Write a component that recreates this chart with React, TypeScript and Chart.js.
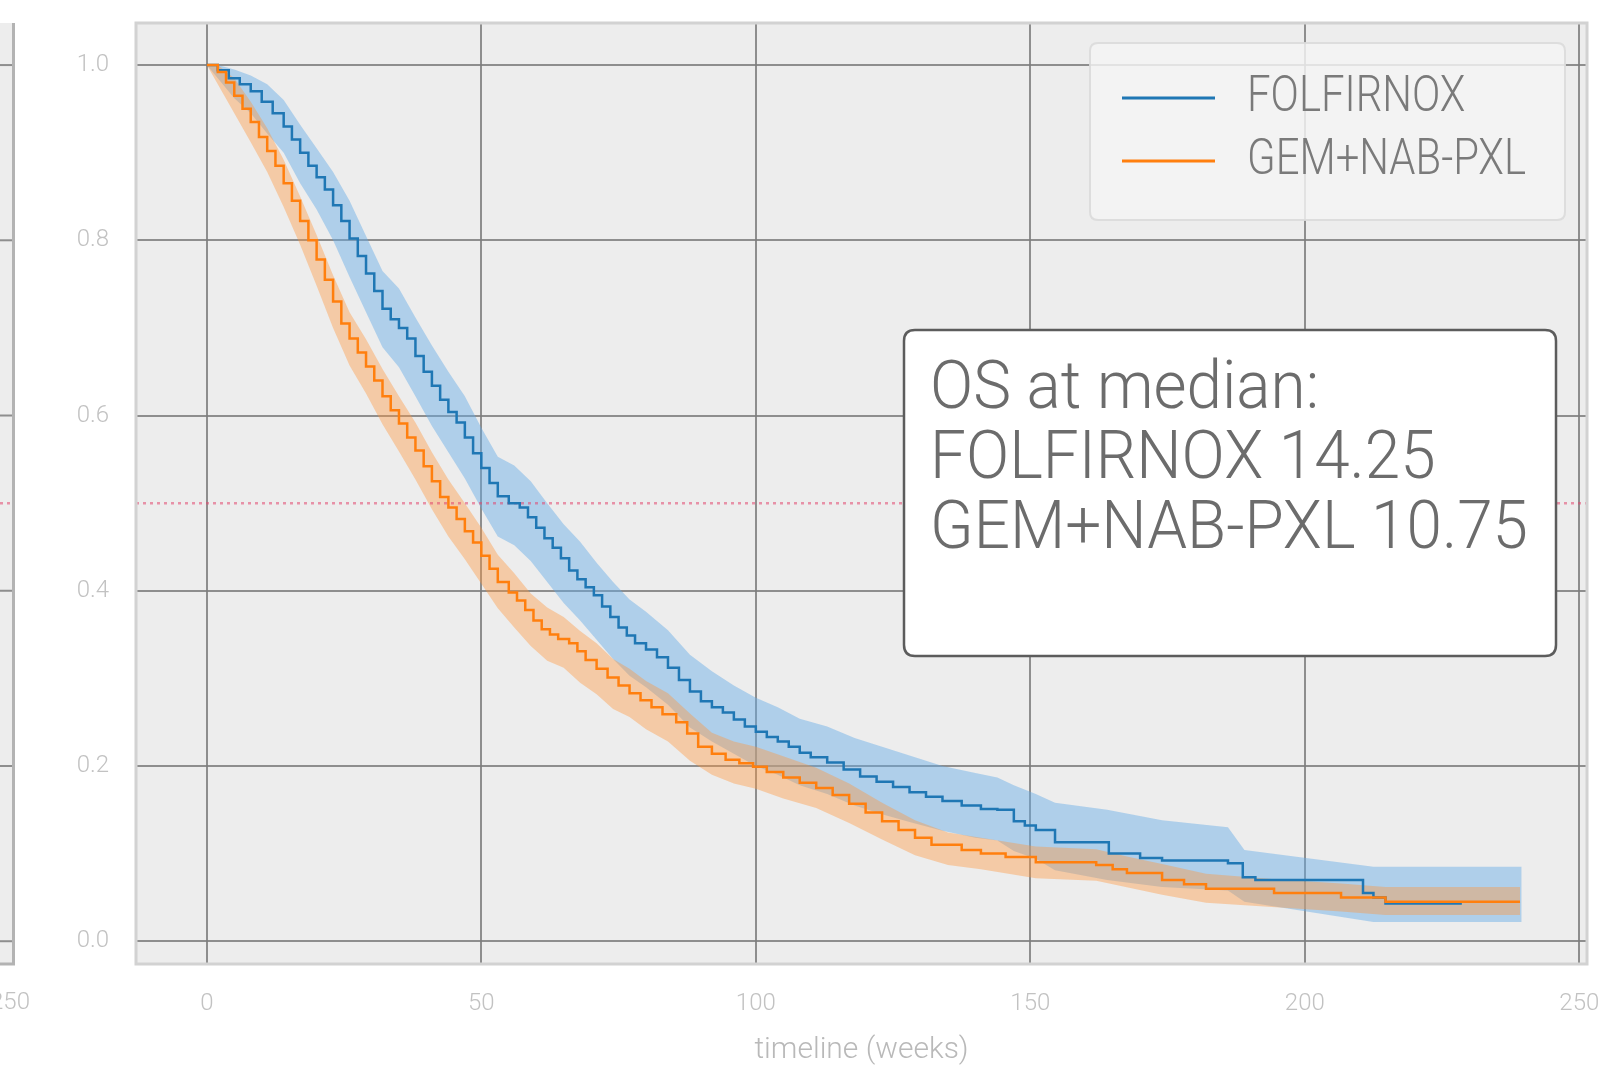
import React, { useEffect, useRef } from 'react';
import { Chart, registerables } from 'chart.js';

Chart.register(...registerables);

// ---------- data ----------
const seriesNames = ['FOLFIRNOX', 'GEM+NAB-PXL'];
const medianOS = [14.25, 10.75];
const medianTitle = 'OS at median:';
const xAxisTitle = 'timeline (weeks)';
const xTicks = [0, 50, 100, 150, 200, 250];
const yTicks = [0, 0.2, 0.4, 0.6, 0.8, 1.0];
const medianLevel = 0.5;

const folfirnoxWeeks = [0, 2, 4, 6, 8, 10, 12, 14, 15.5, 17, 18.5, 20, 21.5, 23, 24.5, 26, 27.5, 29, 30.5, 32, 33.5, 35, 36.5, 38, 39.5, 41, 42.5, 44, 45.5, 47, 48.5, 50, 51.5, 53, 55, 57, 58.5, 60, 61.5, 63, 64.5, 66, 67.5, 69, 70.5, 72, 73.5, 75, 76.5, 78, 80, 82, 84, 86, 88, 90, 92, 94, 96, 98, 100, 102, 104, 106, 108, 110, 113, 116, 119, 122, 125, 128, 131, 134, 137.5, 141, 144, 147, 149, 151, 154.5, 164.3, 170, 174, 186, 188.7, 191, 210.6, 212.5, 214.7, 228.6];
const folfirnoxSurvival = [1.0, 0.994, 0.985, 0.978, 0.970, 0.958, 0.945, 0.930, 0.915, 0.900, 0.885, 0.872, 0.858, 0.840, 0.822, 0.802, 0.782, 0.762, 0.742, 0.722, 0.710, 0.700, 0.688, 0.668, 0.650, 0.634, 0.618, 0.604, 0.592, 0.575, 0.557, 0.540, 0.523, 0.508, 0.500, 0.495, 0.484, 0.472, 0.460, 0.449, 0.437, 0.423, 0.413, 0.404, 0.395, 0.382, 0.370, 0.358, 0.349, 0.340, 0.333, 0.324, 0.312, 0.298, 0.285, 0.274, 0.267, 0.261, 0.253, 0.245, 0.239, 0.233, 0.228, 0.222, 0.215, 0.210, 0.204, 0.196, 0.188, 0.182, 0.176, 0.170, 0.165, 0.160, 0.155, 0.151, 0.150, 0.137, 0.132, 0.127, 0.113, 0.100, 0.095, 0.092, 0.089, 0.073, 0.070, 0.055, 0.050, 0.043, 0.043];

const folfirnoxCiWeeks = [0, 2, 5, 8, 11, 14, 17, 20, 23, 26, 29, 32, 35, 38, 41, 44, 47, 50, 53, 56, 59, 62, 65, 68, 71, 74, 77, 80, 84, 88, 92, 96, 100, 104, 108, 113, 118, 123, 128, 134, 140, 144, 147, 151, 154.5, 164, 174, 186, 189, 212.5, 239.5];
const folfirnoxCiLower = [1.0, 0.985, 0.962, 0.945, 0.922, 0.900, 0.865, 0.835, 0.800, 0.758, 0.718, 0.678, 0.655, 0.622, 0.588, 0.558, 0.528, 0.494, 0.462, 0.452, 0.434, 0.410, 0.386, 0.366, 0.344, 0.322, 0.303, 0.290, 0.270, 0.244, 0.228, 0.214, 0.200, 0.190, 0.178, 0.168, 0.155, 0.145, 0.136, 0.126, 0.118, 0.115, 0.103, 0.094, 0.081, 0.070, 0.062, 0.058, 0.045, 0.022, 0.022];
const folfirnoxCiUpper = [1.0, 1.0, 0.995, 0.988, 0.978, 0.960, 0.932, 0.905, 0.878, 0.845, 0.805, 0.765, 0.745, 0.712, 0.680, 0.650, 0.622, 0.586, 0.553, 0.543, 0.525, 0.500, 0.476, 0.456, 0.432, 0.410, 0.390, 0.376, 0.355, 0.327, 0.308, 0.292, 0.278, 0.267, 0.254, 0.245, 0.232, 0.222, 0.212, 0.200, 0.192, 0.187, 0.178, 0.168, 0.158, 0.150, 0.138, 0.130, 0.104, 0.085, 0.085];

const gemWeeks = [0, 2, 3.5, 5, 6.5, 8, 9.5, 11, 12.5, 14, 15.5, 17, 18.5, 20, 21.5, 23, 24.5, 26, 27.5, 29, 30.5, 32, 33.5, 35, 36.5, 38, 39.5, 41, 42.5, 44, 45.5, 47, 48.5, 50, 51.5, 53, 55, 56.5, 58, 59.5, 61, 62.5, 64, 66, 67.5, 69, 71, 73, 75, 77, 79, 81, 83, 85.5, 87.5, 89.5, 92, 94.5, 97, 99.5, 102, 105, 108, 111, 114, 117, 120, 123, 126, 129, 132, 137.5, 141, 145.5, 151, 162, 165, 167.6, 174, 178, 182, 194.4, 206.6, 214.7, 239.2];
const gemSurvival = [1.0, 0.992, 0.980, 0.965, 0.950, 0.935, 0.918, 0.902, 0.885, 0.865, 0.845, 0.822, 0.800, 0.778, 0.755, 0.730, 0.705, 0.688, 0.672, 0.656, 0.640, 0.622, 0.606, 0.591, 0.575, 0.560, 0.542, 0.525, 0.507, 0.495, 0.482, 0.468, 0.455, 0.440, 0.425, 0.410, 0.398, 0.389, 0.378, 0.366, 0.356, 0.350, 0.345, 0.340, 0.331, 0.321, 0.311, 0.301, 0.292, 0.283, 0.275, 0.267, 0.259, 0.250, 0.237, 0.222, 0.214, 0.207, 0.203, 0.199, 0.193, 0.187, 0.181, 0.175, 0.167, 0.157, 0.147, 0.137, 0.127, 0.118, 0.110, 0.104, 0.100, 0.096, 0.090, 0.087, 0.082, 0.078, 0.070, 0.065, 0.060, 0.055, 0.050, 0.045, 0.045];

const gemCiWeeks = [0, 2, 5, 8, 11, 14, 17, 20, 23, 26, 29, 32, 35, 38, 41, 44, 47, 50, 53, 56, 59, 62, 65, 68, 71, 74, 77, 80, 84, 88, 92, 96, 100, 105, 111, 117, 123, 129, 135, 141, 151, 162, 168, 174, 182, 194, 206.6, 214.7, 239.2];
const gemCiLower = [1.0, 0.978, 0.945, 0.912, 0.878, 0.838, 0.795, 0.748, 0.700, 0.657, 0.625, 0.590, 0.559, 0.527, 0.493, 0.462, 0.436, 0.408, 0.380, 0.358, 0.337, 0.320, 0.312, 0.295, 0.282, 0.265, 0.256, 0.242, 0.228, 0.206, 0.190, 0.180, 0.174, 0.163, 0.152, 0.135, 0.116, 0.098, 0.087, 0.082, 0.072, 0.069, 0.061, 0.053, 0.044, 0.039, 0.034, 0.030, 0.030];
const gemCiUpper = [1.0, 1.0, 0.985, 0.958, 0.928, 0.892, 0.850, 0.806, 0.760, 0.718, 0.687, 0.653, 0.622, 0.592, 0.558, 0.527, 0.500, 0.472, 0.441, 0.420, 0.397, 0.381, 0.370, 0.354, 0.340, 0.322, 0.311, 0.297, 0.283, 0.260, 0.238, 0.228, 0.222, 0.211, 0.198, 0.180, 0.158, 0.138, 0.124, 0.118, 0.108, 0.105, 0.096, 0.088, 0.077, 0.071, 0.066, 0.062, 0.062];

// ---------- styling ----------
const W = 1607;
const H = 1072;
const FONT = 'Roboto';
const BLUE = '#1f77b4';
const ORANGE = '#ff7f0e';
const BLUE_BAND = 'rgba(100,170,230,0.45)';
const ORANGE_BAND = 'rgba(255,150,60,0.40)';
const MEDIAN_COLOR = 'rgba(225,70,110,0.55)';
const GRID = 'rgba(125,125,125,0.85)';
const PLOT_BG = '#ededed';
const TICK_COLOR = '#c2c2c2';

const pts = (xs: number[], ys: number[]) => xs.map((x, i) => ({ x, y: ys[i] }));

function roundRect(ctx: CanvasRenderingContext2D, x: number, y: number, w: number, h: number, r: number) {
  ctx.beginPath();
  ctx.moveTo(x + r, y);
  ctx.lineTo(x + w - r, y);
  ctx.quadraticCurveTo(x + w, y, x + w, y + r);
  ctx.lineTo(x + w, y + h - r);
  ctx.quadraticCurveTo(x + w, y + h, x + w - r, y + h);
  ctx.lineTo(x + r, y + h);
  ctx.quadraticCurveTo(x, y + h, x, y + h - r);
  ctx.lineTo(x, y + r);
  ctx.quadraticCurveTo(x, y, x + r, y);
  ctx.closePath();
}

const decorPlugin = {
  id: 'decor',
  beforeDraw(chart: any) {
    const { ctx, chartArea: a, scales } = chart;
    const ys = scales.y;
    ctx.save();
    ctx.fillStyle = '#ffffff';
    ctx.fillRect(0, 0, chart.width, chart.height);
    ctx.fillStyle = PLOT_BG;
    ctx.fillRect(a.left, a.top, a.right - a.left, a.bottom - a.top);
    // neighbouring (cropped) panel at the far left
    ctx.fillRect(0, a.top, 14, a.bottom - a.top);
    ctx.strokeStyle = GRID;
    ctx.lineWidth = 2;
    yTicks.forEach((v) => {
      const y = ys.getPixelForValue(v);
      ctx.beginPath();
      ctx.moveTo(0, y);
      ctx.lineTo(13, y);
      ctx.stroke();
    });
    ctx.setLineDash([3, 4]);
    ctx.strokeStyle = MEDIAN_COLOR;
    ctx.lineWidth = 2.5;
    const ym = ys.getPixelForValue(medianLevel);
    ctx.beginPath();
    ctx.moveTo(0, ym);
    ctx.lineTo(13, ym);
    ctx.stroke();
    ctx.setLineDash([]);
    ctx.strokeStyle = '#b3b3b3';
    ctx.lineWidth = 3;
    ctx.beginPath();
    ctx.moveTo(13.5, a.top);
    ctx.lineTo(13.5, a.bottom);
    ctx.lineTo(0, a.bottom);
    ctx.stroke();
    ctx.fillStyle = TICK_COLOR;
    ctx.font = `300 24px ${FONT}`;
    ctx.textAlign = 'center';
    ctx.textBaseline = 'middle';
    ctx.fillText('250', 10, 1003);
    ctx.restore();
  },
  afterDraw(chart: any) {
    const { ctx, chartArea: a } = chart;
    ctx.save();
    // spines
    ctx.strokeStyle = '#d2d2d2';
    ctx.lineWidth = 3;
    ctx.strokeRect(a.left, a.top, a.right - a.left, a.bottom - a.top);

    // legend
    roundRect(ctx, 1090, 43, 475, 177, 8);
    ctx.fillStyle = 'rgba(244,244,244,0.82)';
    ctx.fill();
    ctx.strokeStyle = 'rgba(218,218,218,0.9)';
    ctx.lineWidth = 2;
    ctx.stroke();
    const lineSets = chart.data.datasets.filter((d: any) => d.isSeries);
    ctx.font = `300 50px ${FONT}`;
    const lsx = 279 / ctx.measureText(seriesNames[1]).width;
    ctx.textBaseline = 'middle';
    ctx.textAlign = 'left';
    lineSets.forEach((d: any, i: number) => {
      const y = 98 + i * 63;
      ctx.strokeStyle = d.borderColor;
      ctx.lineWidth = 3;
      ctx.beginPath();
      ctx.moveTo(1122, y);
      ctx.lineTo(1215, y);
      ctx.stroke();
      ctx.fillStyle = '#7a7a7a';
      ctx.save();
      ctx.translate(1247, y);
      ctx.scale(lsx, 1);
      ctx.fillText(d.label, 0, 0);
      ctx.restore();
    });

    // median annotation box
    roundRect(ctx, 904, 330, 652, 326, 11);
    ctx.fillStyle = '#ffffff';
    ctx.fill();
    ctx.strokeStyle = '#5c5c5c';
    ctx.lineWidth = 2.5;
    ctx.stroke();
    const lines = [medianTitle, ...seriesNames.map((n, i) => `${n} ${medianOS[i].toFixed(2)}`)];
    ctx.font = `300 66px ${FONT}`;
    const asx = 598 / ctx.measureText(lines[2]).width;
    ctx.fillStyle = '#6c6c6c';
    ctx.textBaseline = 'alphabetic';
    lines.forEach((t, i) => {
      ctx.save();
      ctx.translate(930, 408 + i * 70);
      ctx.scale(asx, 1);
      ctx.fillText(t, 0, 0);
      ctx.restore();
    });
    ctx.restore();
  },
};

export default function App() {
  const canvasRef = useRef<HTMLCanvasElement | null>(null);

  useEffect(() => {
    if (!canvasRef.current) return;
    Chart.defaults.font.family = FONT;
    const chart = new Chart(canvasRef.current, {
      type: 'line',
      data: {
        datasets: [
          {
            label: 'FOLFIRNOX upper CI',
            data: pts(folfirnoxCiWeeks, folfirnoxCiUpper),
            borderWidth: 0,
            pointRadius: 0,
            backgroundColor: BLUE_BAND,
            fill: '+1',
            order: 10,
          },
          {
            label: 'FOLFIRNOX lower CI',
            data: pts(folfirnoxCiWeeks, folfirnoxCiLower),
            borderWidth: 0,
            pointRadius: 0,
            fill: false,
            order: 10,
          },
          {
            label: 'GEM+NAB-PXL upper CI',
            data: pts(gemCiWeeks, gemCiUpper),
            borderWidth: 0,
            pointRadius: 0,
            backgroundColor: ORANGE_BAND,
            fill: '+1',
            order: 9,
          },
          {
            label: 'GEM+NAB-PXL lower CI',
            data: pts(gemCiWeeks, gemCiLower),
            borderWidth: 0,
            pointRadius: 0,
            fill: false,
            order: 9,
          },
          {
            label: 'median',
            data: [
              { x: -12.9, y: medianLevel },
              { x: 251.4, y: medianLevel },
            ],
            borderColor: MEDIAN_COLOR,
            borderWidth: 2.5,
            borderDash: [3, 4],
            pointRadius: 0,
            fill: false,
            order: 5,
          },
          {
            label: seriesNames[0],
            isSeries: true,
            data: pts(folfirnoxWeeks, folfirnoxSurvival),
            borderColor: BLUE,
            borderWidth: 2.5,
            pointRadius: 0,
            stepped: true,
            fill: false,
            order: 2,
          },
          {
            label: seriesNames[1],
            isSeries: true,
            data: pts(gemWeeks, gemSurvival),
            borderColor: ORANGE,
            borderWidth: 2.5,
            pointRadius: 0,
            stepped: true,
            fill: false,
            order: 1,
          },
        ] as any,
      },
      options: {
        animation: false,
        responsive: false,
        events: [],
        layout: { padding: { top: 23, right: 20, bottom: 0, left: 0 } },
        plugins: {
          legend: { display: false },
          tooltip: { enabled: false },
          title: { display: false },
        },
        scales: {
          x: {
            type: 'linear',
            min: -12.9,
            max: 251.4,
            afterBuildTicks: (scale: any) => {
              scale.ticks = xTicks.map((v) => ({ value: v }));
            },
            afterFit: (scale: any) => {
              scale.height = 108;
              scale.paddingLeft = 0;
              scale.paddingRight = 0;
              scale.paddingTop = 0;
              scale.paddingBottom = 0;
            },
            grid: { color: GRID, lineWidth: 2, drawTicks: false },
            border: { display: false },
            ticks: {
              padding: 26,
              color: TICK_COLOR,
              font: { family: FONT, size: 24, weight: '300' },
              maxRotation: 0,
              callback: (v: any) => String(v),
            },
            title: {
              display: true,
              text: xAxisTitle,
              color: '#b9b9b9',
              font: { family: FONT, size: 30, weight: '300' },
              padding: { top: 0, bottom: 4 },
            },
          },
          y: {
            type: 'linear',
            min: -0.026,
            max: 1.048,
            afterBuildTicks: (scale: any) => {
              scale.ticks = yTicks.map((v) => ({ value: v }));
            },
            afterFit: (scale: any) => {
              scale.width = 136;
              scale.paddingLeft = 0;
              scale.paddingRight = 0;
              scale.paddingTop = 0;
              scale.paddingBottom = 0;
            },
            grid: { color: GRID, lineWidth: 2, drawTicks: false },
            border: { display: false },
            ticks: {
              padding: 27,
              color: TICK_COLOR,
              font: { family: FONT, size: 24, weight: '300' },
              callback: (v: any) => Number(v).toFixed(1),
            },
          },
        },
      } as any,
      plugins: [decorPlugin as any],
    });
    return () => chart.destroy();
  }, []);

  return (
    <div style={{ position: 'fixed', left: 0, top: 0, width: W, height: H, background: '#ffffff' }}>
      <canvas ref={canvasRef} width={W} height={H} style={{ display: 'block' }} />
    </div>
  );
}
